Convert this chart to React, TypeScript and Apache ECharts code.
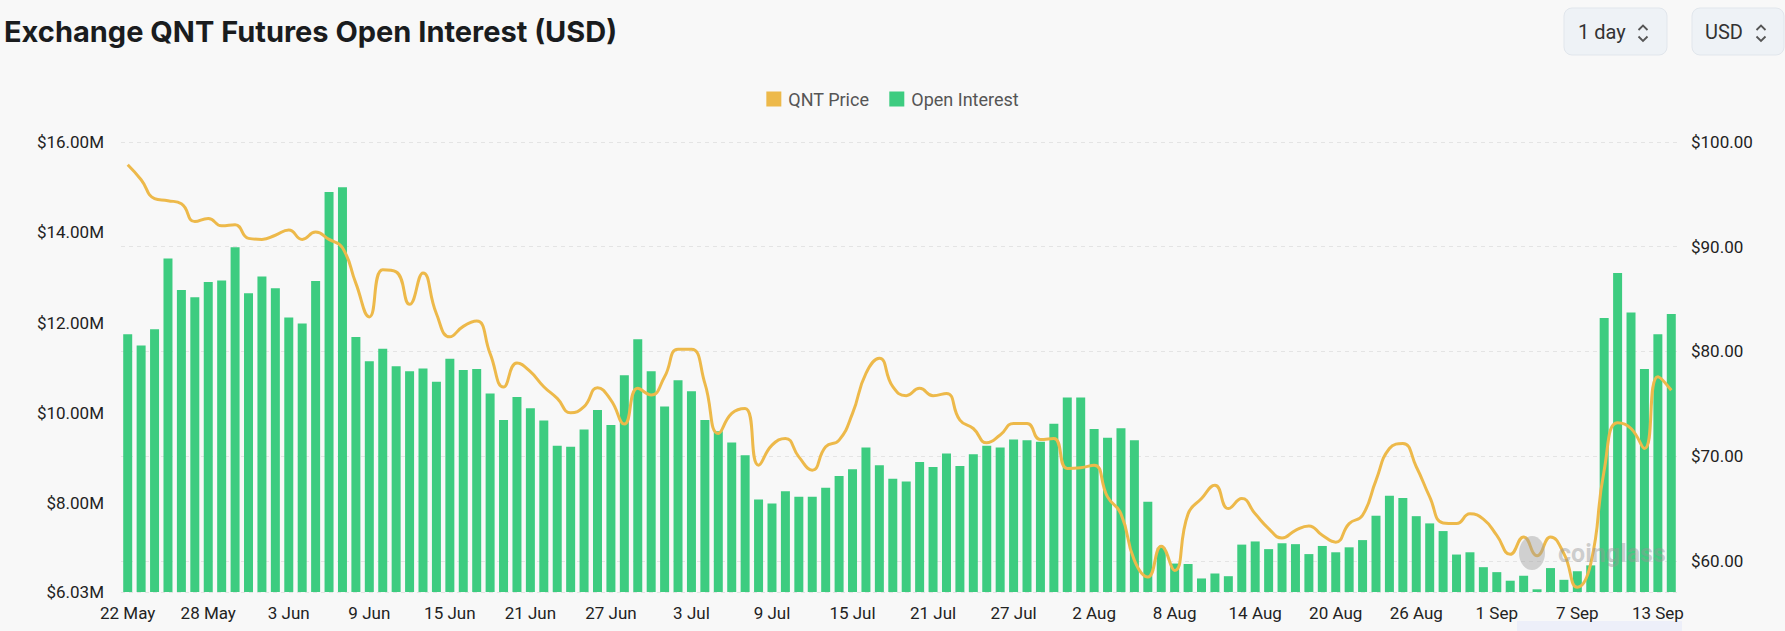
import React, { useEffect, useRef } from "react";
import * as echarts from "echarts";

const dates = [
  "22 May","23 May","24 May","25 May","26 May","27 May","28 May","29 May","30 May","31 May",
  "1 Jun","2 Jun","3 Jun","4 Jun","5 Jun","6 Jun","7 Jun","8 Jun","9 Jun","10 Jun",
  "11 Jun","12 Jun","13 Jun","14 Jun","15 Jun","16 Jun","17 Jun","18 Jun","19 Jun","20 Jun",
  "21 Jun","22 Jun","23 Jun","24 Jun","25 Jun","26 Jun","27 Jun","28 Jun","29 Jun","30 Jun",
  "1 Jul","2 Jul","3 Jul","4 Jul","5 Jul","6 Jul","7 Jul","8 Jul","9 Jul","10 Jul",
  "11 Jul","12 Jul","13 Jul","14 Jul","15 Jul","16 Jul","17 Jul","18 Jul","19 Jul","20 Jul",
  "21 Jul","22 Jul","23 Jul","24 Jul","25 Jul","26 Jul","27 Jul","28 Jul","29 Jul","30 Jul",
  "31 Jul","1 Aug","2 Aug","3 Aug","4 Aug","5 Aug","6 Aug","7 Aug","8 Aug","9 Aug",
  "10 Aug","11 Aug","12 Aug","13 Aug","14 Aug","15 Aug","16 Aug","17 Aug","18 Aug","19 Aug",
  "20 Aug","21 Aug","22 Aug","23 Aug","24 Aug","25 Aug","26 Aug","27 Aug","28 Aug","29 Aug",
  "30 Aug","31 Aug","1 Sep","2 Sep","3 Sep","4 Sep","5 Sep","6 Sep","7 Sep","8 Sep",
  "9 Sep","10 Sep","11 Sep","12 Sep","13 Sep","14 Sep"
];

// Open interest in millions of USD
const openInterestM = [
  11.74, 11.49, 11.85, 13.42, 12.72, 12.56, 12.90, 12.93, 13.67, 12.65,
  13.02, 12.76, 12.11, 11.98, 12.92, 14.89, 15.00, 11.68, 11.14, 11.42,
  11.03, 10.92, 10.98, 10.69, 11.20, 10.95, 10.97, 10.43, 9.84, 10.35,
  10.10, 9.83, 9.27, 9.25, 9.63, 10.06, 9.73, 10.83, 11.63, 10.92,
  10.14, 10.72, 10.48, 9.84, 9.59, 9.34, 9.06, 8.08, 7.99, 8.26,
  8.14, 8.14, 8.34, 8.60, 8.75, 9.23, 8.84, 8.54, 8.48, 8.91,
  8.80, 9.10, 8.82, 9.08, 9.27, 9.23, 9.41, 9.39, 9.36, 9.76,
  10.34, 10.34, 9.64, 9.45, 9.66, 9.39, 8.03, 7.01, 6.66, 6.65,
  6.33, 6.44, 6.38, 7.08, 7.15, 6.98, 7.11, 7.09, 6.87, 7.05,
  6.91, 7.02, 7.18, 7.72, 8.16, 8.11, 7.71, 7.55, 7.38, 6.86,
  6.91, 6.58, 6.47, 6.28, 6.39, 6.09, 6.56, 6.30, 6.49, 6.62,
  12.10, 13.10, 12.22, 10.97, 11.74, 12.19
];

// QNT price in USD
const qntPrice = [
  97.83, 96.4, 94.6, 94.4, 94.1, 92.4, 92.7, 92.0, 92.1, 90.8,
  90.7, 91.1, 91.6, 90.7, 91.4, 90.7, 89.9, 86.5, 83.3, 87.8,
  87.6, 84.5, 87.5, 83.6, 81.4, 82.4, 82.9, 79.8, 76.6, 78.9,
  78.07, 76.64, 75.52, 74.15, 74.73, 76.54, 75.36, 73.07, 76.48, 75.84,
  77.59, 80.21, 80.21, 76.96, 72.18, 74.09, 74.57, 69.15, 71.06, 71.7,
  69.94, 68.67, 70.9, 71.54, 74.09, 77.91, 79.35, 76.64, 75.78, 76.48,
  75.78, 76.0, 73.45, 72.65, 71.28, 72.02, 73.13, 73.13, 71.6, 71.7,
  68.83, 68.9, 69.15, 66.12, 64.5, 60.06, 58.47, 61.4, 59.1, 64.5,
  65.96, 67.23, 65.0, 65.96, 64.5, 63.1, 62.2, 62.93, 63.35, 62.45,
  61.8, 63.57, 64.37, 67.7, 70.74, 71.22, 69.0, 66.12, 63.63, 63.57,
  64.5, 64.0, 62.45, 60.64, 62.3, 60.5, 62.3, 60.7, 57.5, 59.75,
  68.67, 73.2, 72.65, 70.74, 77.6, 76.3
];

const oiAxisMinM = 6.03;
const oiAxisMaxM = 16;
const priceAxisMin = 57.04;
const priceAxisMax = 100;

const titleText = "Exchange QNT Futures Open Interest (USD)";
const seriesNames = ["QNT Price", "Open Interest"];
const selectorLabels = ["1 day", "USD"];

const GREEN = "#3DCC80";
const YELLOW = "#EDB94A";
const FONT = "Roboto, 'Noto Sans', sans-serif";

function chevrons(cx: number) {
  return [
    {
      type: "polyline",
      shape: { points: [[cx - 4.5, 30], [cx, 25.5], [cx + 4.5, 30]] },
      style: { stroke: "#555", lineWidth: 1.8, fill: null },
    },
    {
      type: "polyline",
      shape: { points: [[cx - 4.5, 36.5], [cx, 41], [cx + 4.5, 36.5]] },
      style: { stroke: "#555", lineWidth: 1.8, fill: null },
    },
  ];
}

export default function App() {
  const ref = useRef<HTMLDivElement>(null);

  useEffect(() => {
    if (!ref.current) return;
    const chart = echarts.init(ref.current, undefined, { renderer: "svg" });

    const option: any = {
      animation: false,
      backgroundColor: "#F8F8F8",
      title: {
        text: titleText,
        left: 4,
        top: 17,
        padding: 0,
        textStyle: {
          fontFamily: "Inter, sans-serif",
          fontWeight: "bold",
          fontSize: 29,
          color: "#1A1C1E",
        },
      },
      legend: {
        data: seriesNames,
        top: 85,
        left: "center",
        icon: "rect",
        itemWidth: 15,
        itemHeight: 15,
        itemGap: 20,
        textStyle: {
          fontFamily: FONT,
          fontSize: 18,
          color: "#555",
          padding: [0, 0, 0, 2],
        },
      },
      grid: { left: 121, right: 107, top: 142, bottom: 39 },
      xAxis: {
        type: "category",
        data: dates,
        axisLine: { show: false },
        axisTick: { show: false },
        axisLabel: {
          interval: 5,
          margin: 12,
          fontFamily: FONT,
          fontSize: 17,
          color: "#222",
        },
      },
      yAxis: [
        {
          type: "value",
          position: "left",
          min: oiAxisMinM * 1e6,
          max: oiAxisMaxM * 1e6,
          splitNumber: 5,
          splitLine: { show: false },
          axisLine: { show: false },
          axisTick: { show: false },
          axisLabel: {
            formatter: (v: number) => "$" + (v / 1e6).toFixed(2) + "M",
            margin: 17,
            fontFamily: FONT,
            fontSize: 17,
            color: "#222",
          },
        },
        {
          type: "value",
          position: "right",
          min: priceAxisMin,
          max: priceAxisMax,
          splitNumber: 5,
          splitLine: {
            show: true,
            lineStyle: { type: [4, 4], color: "#E4E4E4", width: 1 },
          },
          axisLine: { show: false },
          axisTick: { show: false },
          axisLabel: {
            showMinLabel: false,
            formatter: (v: number) => "$" + v.toFixed(2),
            margin: 13,
            fontFamily: FONT,
            fontSize: 17,
            color: "#222",
          },
        },
      ],
      series: [
        {
          name: seriesNames[0],
          type: "line",
          yAxisIndex: 1,
          data: qntPrice,
          smooth: true,
          symbol: "none",
          lineStyle: { width: 3, color: YELLOW },
          itemStyle: { color: YELLOW },
          z: 3,
        },
        {
          name: seriesNames[1],
          type: "bar",
          yAxisIndex: 0,
          data: openInterestM.map((v) => v * 1e6),
          barCategoryGap: "33%",
          itemStyle: { color: GREEN },
          z: 2,
        },
      ],
      graphic: [
        {
          type: "rect",
          shape: { x: 1564, y: 8, width: 103, height: 47, r: 8 },
          style: { fill: "#EEF2F6", stroke: "#E1E6EC", lineWidth: 1 },
        },
        {
          type: "text",
          x: 1578,
          y: 32,
          style: {
            text: selectorLabels[0],
            font: "20px Roboto, sans-serif",
            fill: "#333",
            verticalAlign: "middle",
          },
        },
        ...chevrons(1643),
        {
          type: "rect",
          shape: { x: 1692, y: 8, width: 92, height: 47, r: 8 },
          style: { fill: "#EEF2F6", stroke: "#E1E6EC", lineWidth: 1 },
        },
        {
          type: "text",
          x: 1705,
          y: 32,
          style: {
            text: selectorLabels[1],
            font: "20px Roboto, sans-serif",
            fill: "#333",
            verticalAlign: "middle",
          },
        },
        ...chevrons(1761),
        {
          type: "ellipse",
          shape: { cx: 1532, cy: 553, rx: 13, ry: 17 },
          style: { fill: "rgba(160,160,160,0.45)" },
          z: 10,
        },
        {
          type: "text",
          x: 1558,
          y: 553,
          style: {
            text: "coinglass",
            font: "bold 25px Roboto, sans-serif",
            fill: "rgba(150,150,150,0.45)",
            verticalAlign: "middle",
          },
          z: 10,
        },
        {
          type: "rect",
          shape: { x: 1517, y: 621, width: 165, height: 12 },
          style: { fill: "#EDEFF9" },
        },
      ],
    };

    chart.setOption(option);
    return () => chart.dispose();
  }, []);

  return (
    <div
      ref={ref}
      style={{
        position: "fixed",
        left: 0,
        top: 0,
        width: "1785px",
        height: "631px",
        background: "#F8F8F8",
      }}
    />
  );
}
